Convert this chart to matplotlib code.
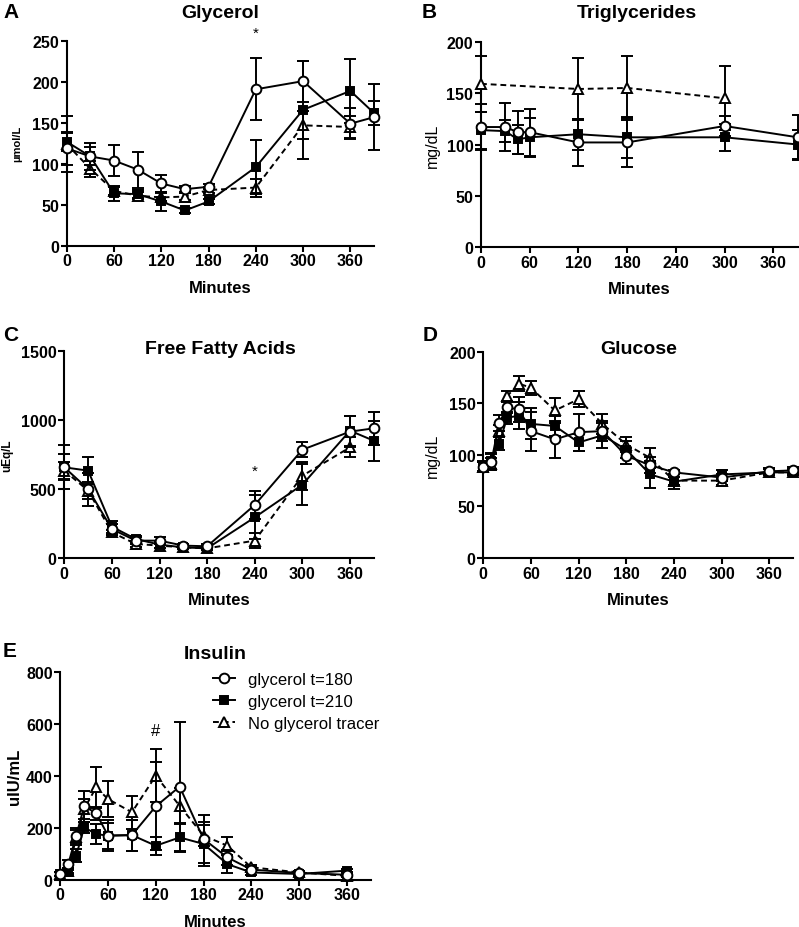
import matplotlib
matplotlib.use("Agg")
import matplotlib.pyplot as plt
from matplotlib.lines import Line2D

plt.rcParams['font.family'] = ['Liberation Sans', 'DejaVu Sans']

W, H = 799, 928

# ---- A: Glycerol (umol/L)
t_gly = [0, 30, 60, 90, 120, 150, 180, 240, 300, 360, 390]
gly_180 = [119, 109, 104, 93, 76, 69, 72, 191, 201, 149, 157]
gly_180_e = [20, 16, 19, 22, 10, 4, 3, 38, 25, 19, 40]
gly_210 = [127, 109, 64, 63, 54, 43, 54, 96, 166, 189, 162]
gly_210_e = [11, 11, 9, 5, 12, 3, 3, 33, 60, 39, 15]
t_gly_no = [0, 30, 60, 90, 120, 150, 180, 240, 300, 360]
gly_no = [124, 94, 67, 61, 59, 60, 68, 71, 147, 145]
gly_no_e = [34, 10, 5, 4, 5, 4, 4, 11, 17, 14]

# ---- B: Triglycerides (mg/dL)
t_tg = [0, 30, 45, 60, 120, 180, 300, 390]
tg_180 = [117, 117, 112, 112, 102, 102, 118, 107]
tg_180_e = [22, 23, 21, 23, 23, 24, 10, 22]
tg_210 = [114, 113, 105, 107, 110, 107, 107, 100]
tg_210_e = [18, 11, 14, 19, 15, 20, 13, 14]
t_tg_no = [0, 120, 180, 300]
tg_no = [159, 154, 155, 145]
tg_no_e = [27, 30, 31, 31]

# ---- C: Free fatty acids (uEq/L)
t_ffa = [0, 30, 60, 90, 120, 150, 180, 240, 300, 360, 390]
ffa_180 = [658, 500, 210, 126, 126, 90, 85, 385, 786, 917, 941]
ffa_180_e = [160, 120, 40, 25, 25, 15, 15, 100, 55, 110, 120]
ffa_210 = [658, 634, 227, 138, 97, 77, 70, 295, 532, 924, 851]
ffa_210_e = [95, 97, 45, 25, 25, 15, 15, 160, 150, 110, 145]
t_ffa_no = [0, 30, 60, 90, 120, 150, 180, 240, 300, 360]
ffa_no = [634, 489, 186, 102, 90, 77, 70, 126, 597, 803]
ffa_no_e = [60, 60, 20, 20, 20, 12, 12, 55, 100, 72]

# ---- D: Glucose (mg/dL)
t_glu = [0, 10, 20, 30, 45, 60, 90, 120, 150, 180, 210, 240, 300, 360, 390]
glu_180 = [88, 93, 131, 146, 144, 123, 115, 122, 123, 99, 90, 83, 78, 84, 85]
glu_180_e = [5, 8, 8, 5, 12, 19, 18, 18, 10, 8, 8, 2, 3, 3, 3]
glu_210 = [89, 94, 111, 136, 138, 130, 128, 112, 119, 105, 81, 74, 81, 83, 83]
glu_210_e = [5, 8, 6, 6, 13, 15, 10, 8, 12, 8, 13, 7, 4, 3, 3]
glu_no = [88, 91, 123, 157, 169, 165, 143, 154, 130, 110, 97, 75, 75, 83, 83]
glu_no_e = [5, 6, 6, 5, 7, 7, 12, 8, 10, 7, 10, 4, 4, 3, 3]

# ---- E: Insulin (uIU/mL)
t_ins = [0, 10, 20, 30, 45, 60, 90, 120, 150, 180, 210, 240, 300, 360]
ins_180 = [22, 60, 170, 283, 257, 170, 172, 283, 359, 157, 86, 39, 26, 19]
ins_180_e = [8, 15, 30, 60, 25, 50, 60, 170, 248, 94, 30, 10, 6, 5]
ins_210 = [22, 28, 93, 202, 176, 170, 172, 131, 163, 138, 60, 28, 22, 35]
ins_210_e = [8, 10, 25, 20, 40, 60, 60, 35, 55, 85, 35, 8, 6, 6]
ins_no = [22, 35, 163, 273, 356, 311, 260, 401, 285, 170, 131, 48, 28, 15]
ins_no_e = [8, 10, 30, 40, 80, 71, 64, 103, 70, 40, 35, 10, 6, 5]

labels = ['glycerol t=180', 'glycerol t=210', 'No glycerol tracer']

sty = [
    dict(marker='o', mfc='white', mec='black', ms=7, ls='-', zorder=5),
    dict(marker='s', mfc='black', mec='black', ms=6.2, ls='-', zorder=4),
    dict(marker='^', mfc='white', mec='black', ms=7, ls=(0, (3, 2)), zorder=3),
]

fig = plt.figure(figsize=(W / 100, H / 100), dpi=100)


def fx(x):
    return x / W


def fy(y):
    return 1 - y / H


def make_ax(left, right, top, bottom, ymax, ystep, ylabel, ylab_x, ylab_kw):
    ax = fig.add_axes([fx(left), fy(bottom), (right - left) / W, (bottom - top) / H])
    ax.set_xlim(0, 390)
    ax.set_ylim(0, ymax)
    ax.set_xticks(range(0, 361, 60))
    ax.set_yticks(range(0, ymax + 1, ystep))
    for s in ['top', 'right']:
        ax.spines[s].set_visible(False)
    for s in ['left', 'bottom']:
        ax.spines[s].set_linewidth(1.5)
    ax.tick_params(direction='out', length=4, width=1.5, pad=1.5, labelsize=11.5)
    for lab in ax.get_xticklabels() + ax.get_yticklabels():
        lab.set_fontweight('bold')
    ax.set_xlabel('Minutes', fontsize=12, fontweight='bold')
    ax.xaxis.set_label_coords(0.5, -34 / (bottom - top), transform=ax.transAxes)
    ax.xaxis.label.set_verticalalignment('top')
    ax.set_ylabel(ylabel, **ylab_kw)
    ax.yaxis.set_label_coords((ylab_x - left) / (right - left), 0.5)
    return ax


def plot_series(ax, series):
    for (t, y, e), st in zip(series, sty):
        ax.errorbar(t, y, yerr=e, color='black', lw=1.4, elinewidth=1.4,
                    capsize=4.5, capthick=1.4, mew=1.4, clip_on=False, **st)


# A
axA = make_ax(66.7, 374, 42, 246.7, 250, 50, 'µmol/L', 22,
              dict(fontsize=8, fontweight='bold'))
plot_series(axA, [(t_gly, gly_180, gly_180_e), (t_gly, gly_210, gly_210_e),
                  (t_gly_no, gly_no, gly_no_e)])
axA.text(240, 260, '*', ha='center', va='center', fontsize=11, clip_on=False)

# B
axB = make_ax(481, 797.7, 42.7, 248.3, 200, 50, 'mg/dL', 440,
              dict(fontsize=11.5))
plot_series(axB, [(t_tg, tg_180, tg_180_e), (t_tg, tg_210, tg_210_e),
                  (t_tg_no, tg_no, tg_no_e)])

# C
axC = make_ax(64.3, 373.8, 352.3, 559, 1500, 500, 'uEq/L', 13,
              dict(fontsize=8.5, fontweight='bold'))
plot_series(axC, [(t_ffa, ffa_180, ffa_180_e), (t_ffa, ffa_210, ffa_210_e),
                  (t_ffa_no, ffa_no, ffa_no_e)])
axC.text(240, 630, '*', ha='center', va='center', fontsize=11, clip_on=False)

# D
axD = make_ax(483.3, 793.2, 352.7, 559, 200, 50, 'mg/dL', 440,
              dict(fontsize=11.5))
plot_series(axD, [(t_glu, glu_180, glu_180_e), (t_glu, glu_210, glu_210_e),
                  (t_glu, glu_no, glu_no_e)])

# E
axE = make_ax(60.3, 370.6, 673.3, 880.7, 800, 200, 'uIU/mL', 22,
              dict(fontsize=12, fontweight='bold'))
plot_series(axE, [(t_ins, ins_180, ins_180_e), (t_ins, ins_210, ins_210_e),
                  (t_ins, ins_no, ins_no_e)])
axE.text(120, 577, '#', ha='center', va='center', fontsize=12, clip_on=False)

handles = [Line2D([], [], color='black', lw=1.4, mew=1.4,
                  **{k: v for k, v in st.items() if k != 'zorder'}) for st in sty]
axE.legend(handles, labels, loc='upper left', frameon=False, fontsize=12,
           bbox_to_anchor=(fx(213), fy(673)), bbox_transform=fig.transFigure,
           handlelength=1.3, handletextpad=0.8, labelspacing=0.42,
           borderpad=0, borderaxespad=0)

# titles
titles = [('Glycerol', 220, 14), ('Triglycerides', 637, 14),
          ('Free Fatty Acids', 220, 350), ('Glucose', 639, 350),
          ('Insulin', 215, 655)]
for txt, x, y in titles:
    fig.text(fx(x), fy(y), txt, ha='center', va='center', fontsize=14,
             fontweight='bold')

letters = [('A', 11, 13), ('B', 429, 13), ('C', 11, 336), ('D', 430, 336),
           ('E', 10, 652)]
for txt, x, y in letters:
    fig.text(fx(x), fy(y), txt, ha='center', va='center', fontsize=15,
             fontweight='bold')

fig.savefig('out.png', dpi=100)
